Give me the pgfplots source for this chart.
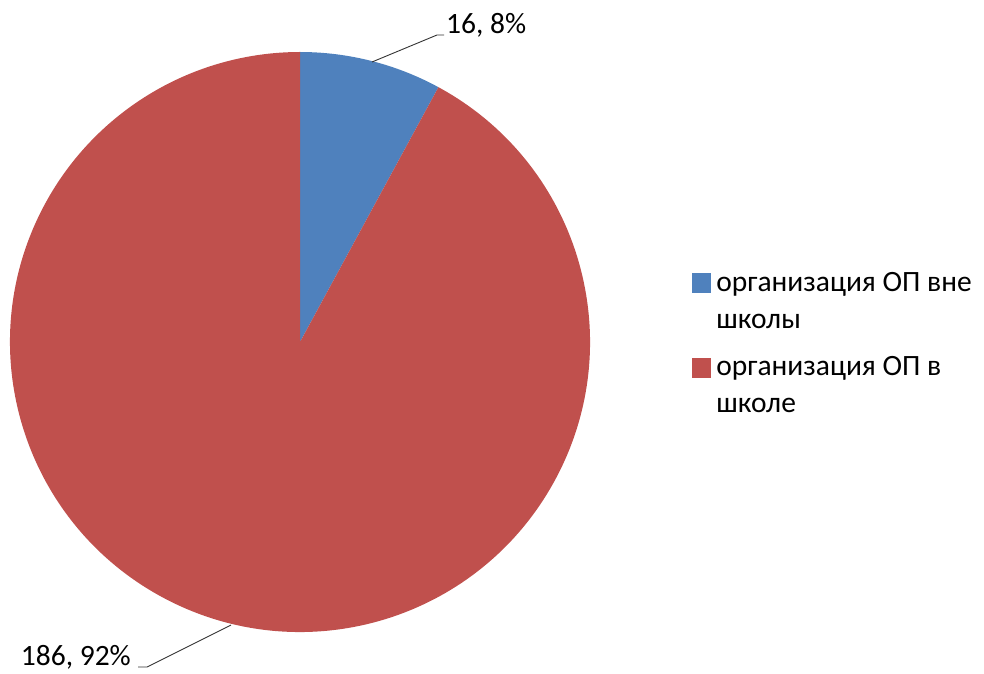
\documentclass[border=0pt]{standalone}
\usepackage{pgfplots}
\pgfplotsset{compat=1.18}
\usepackage{fontspec}
\setmainfont{Carlito}
\definecolor{pieblue}{HTML}{4F81BD}
\definecolor{piered}{HTML}{C0504D}
\begin{document}
\begin{tikzpicture}
\def\vA{16}
\def\vB{186}
\pgfmathsetmacro\aA{90-360*\vA/(\vA+\vB)}
\begin{axis}[
  x=1pt, y=1pt, xmin=0, xmax=984, ymin=0, ymax=673,
  hide axis, clip=false, scale only axis,
  legend style={at={(axis cs:689,403)}, anchor=north west, draw=none, fill=none,
    font=\fontsize{29.5}{37}\selectfont, row sep=27pt,
    nodes={align=left, inner sep=0pt, outer sep=0pt, anchor=base west}},
  legend cell align=left,
  legend image code/.code={\fill[#1] (0pt,36pt) rectangle (18pt,55pt);
    \path[draw=none, fill=none] (18pt,40pt) rectangle (24pt,41pt);},
]
\path[use as bounding box] (rel axis cs:0,0) rectangle (rel axis cs:1,1);
\fill[pieblue] (axis cs:300,331) -- (axis cs:300,621)
  arc[start angle=90, end angle=\aA, radius=290pt] -- cycle;
\fill[piered] (axis cs:300,331) -- (axis cs:{300+290*cos(\aA)},{331+290*sin(\aA)})
  arc[start angle=\aA, end angle=-270, radius=290pt] -- cycle;
\addlegendimage{pieblue}
\addlegendentry{организация ОП вне\\школы}
\addlegendimage{piered}
\addlegendentry{организация ОП в\\школе}
\draw[black!80, line width=0.9pt] (axis cs:372,611) -- (axis cs:437,638) -- (axis cs:444,638);
\node[anchor=base west, inner sep=0pt, font=\fontsize{29.5}{35}\selectfont] at (axis cs:446,639) {16, 8\%};
\draw[black!80, line width=0.9pt] (axis cs:231,48) -- (axis cs:147,6) -- (axis cs:138,6);
\node[anchor=base east, inner sep=0pt, font=\fontsize{29.5}{35}\selectfont] at (axis cs:131,8) {186, 92\%};
\end{axis}
\end{tikzpicture}
\end{document}
